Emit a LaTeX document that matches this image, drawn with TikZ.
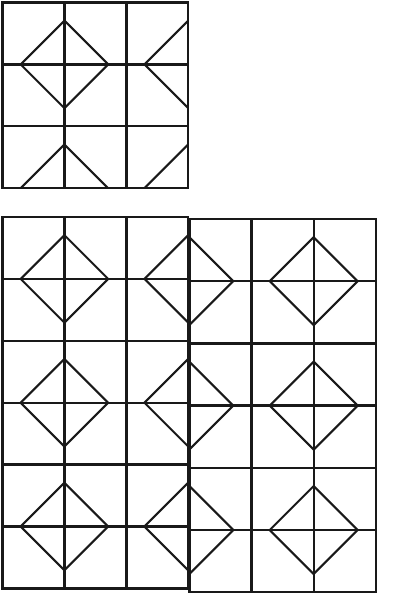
\documentclass[tikz,border=0pt]{standalone}
\tikzset{
  gridline/.style={line width=2.4pt, black!90, line cap=rect},
  diag/.style={line width=2.1pt, black!90, line join=miter},
}
% #1 ox, #2 oy, #3 cell size, #4 number of rows, #5 x phase of diamond centres
\newcommand\pblock[5]{%
  \begin{scope}[shift={(#1,#2)}]
    \begin{scope}
      \clip (0,0) rectangle ({3*#3},{#4*#3});
      \foreach \i in {0,1,2} \foreach \j in {0,1,2,3} {
        \draw[diag] ({(#5+2*\i)*#3-0.707*#3},{(1+2*\j)*#3})
          -- ++({0.707*#3},{-0.707*#3}) -- ++({0.707*#3},{0.707*#3})
          -- ++({-0.707*#3},{0.707*#3}) -- cycle;
      }
    \end{scope}
    \foreach \k in {1,2} \draw[gridline] ({\k*#3},0) -- ({\k*#3},{#4*#3});
    \foreach \k in {1,...,#4} \draw[gridline] (0,{\k*#3}) -- ({3*#3},{\k*#3});
    \draw[gridline] (0,0) rectangle ({3*#3},{#4*#3});
  \end{scope}}
\begin{document}
\begin{tikzpicture}[x=1pt,y=-1pt]
  \useasboundingbox (0,0) rectangle (417,593);
  % upper block
  \pblock{2.5}{2.5}{61.9}{3}{1}
  % lower figure: two blocks side by side
  \pblock{2.5}{217}{61.9}{6}{1}
  \pblock{189.3}{219}{62.2}{6}{0}
\end{tikzpicture}
\end{document}
